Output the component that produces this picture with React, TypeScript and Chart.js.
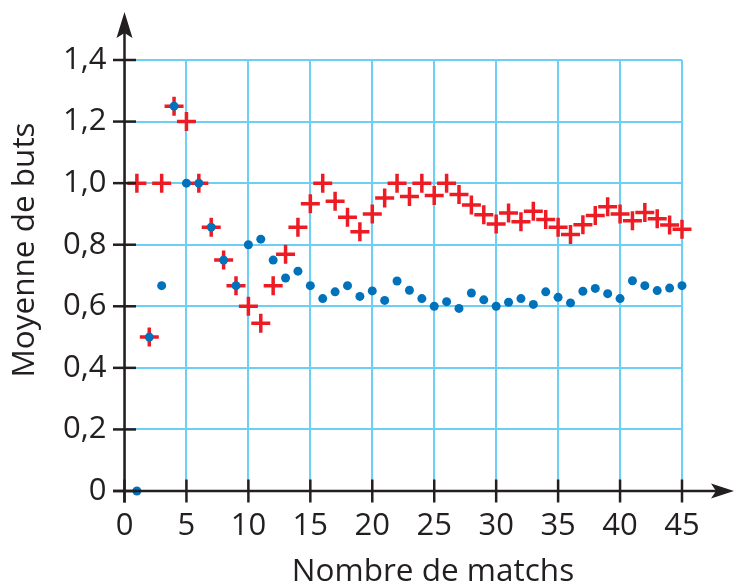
import { useEffect, useRef } from "react";
import { Chart, registerables } from "chart.js";

Chart.register(...registerables);

// ---- data ----
const matchNumbers = [
  1, 2, 3, 4, 5, 6, 7, 8, 9, 10, 11, 12, 13, 14, 15, 16, 17, 18, 19, 20, 21, 22, 23,
  24, 25, 26, 27, 28, 29, 30, 31, 32, 33, 34, 35, 36, 37, 38, 39, 40, 41, 42, 43, 44, 45,
];

const redAverages = [
  1.0, 0.5, 1.0, 1.25, 1.2, 1.0, 0.857, 0.75, 0.667, 0.6, 0.545, 0.667, 0.769, 0.857,
  0.933, 1.0, 0.941, 0.889, 0.842, 0.9, 0.952, 1.0, 0.957, 1.0, 0.96, 1.0, 0.963, 0.929,
  0.897, 0.867, 0.903, 0.875, 0.909, 0.882, 0.857, 0.833, 0.865, 0.895, 0.923, 0.9,
  0.878, 0.905, 0.884, 0.864, 0.85,
];

const blueAverages = [
  0, 0.5, 0.667, 1.25, 1.0, 1.0, 0.857, 0.75, 0.667, 0.8, 0.818, 0.75, 0.692, 0.714,
  0.667, 0.625, 0.647, 0.667, 0.632, 0.65, 0.619, 0.682, 0.652, 0.625, 0.6, 0.615, 0.593,
  0.643, 0.621, 0.6, 0.613, 0.625, 0.606, 0.647, 0.629, 0.611, 0.649, 0.658, 0.641,
  0.625, 0.683, 0.667, 0.651, 0.659, 0.667,
];

const xTickValues = [0, 5, 10, 15, 20, 25, 30, 35, 40, 45];
const xTickLabels = ["0", "5", "10", "15", "20", "25", "30", "35", "40", "45"];
const yTickValues = [0, 0.2, 0.4, 0.6, 0.8, 1.0, 1.2, 1.4];
const yTickLabels = ["0", "0,2", "0,4", "0,6", "0,8", "1,0", "1,2", "1,4"];

const xTitle = "Nombre de matchs";
const yTitle = "Moyenne de buts";

// ---- styles ----
const FONT = "'Open Sans', 'Noto Sans', sans-serif";
const TEXT = "#231f20";
const AXIS = "#231f20";
const GRID = "#6dcff6";
const RED = "#ed1c24";
const BLUE = "#0072bc";

export default function App() {
  const ref = useRef<HTMLCanvasElement>(null);

  useEffect(() => {
    const canvas = ref.current;
    if (!canvas) return;

    const axesPlugin = {
      id: "axesArrows",
      afterDraw(chart: any) {
        const ctx = chart.ctx as CanvasRenderingContext2D;
        const xs = chart.scales.x;
        const ys = chart.scales.y;
        const x0 = xs.getPixelForValue(0);
        const y0 = ys.getPixelForValue(0);
        const tick = 11.5;
        ctx.save();
        ctx.strokeStyle = AXIS;
        ctx.fillStyle = AXIS;
        ctx.lineWidth = 2.5;
        ctx.lineCap = "butt";
        const line = (a: number, b: number, c: number, d: number) => {
          ctx.beginPath();
          ctx.moveTo(a, b);
          ctx.lineTo(c, d);
          ctx.stroke();
        };
        xs.ticks.forEach((t: any) => {
          const px = xs.getPixelForValue(t.value);
          line(px, y0 - tick, px, y0 + tick);
        });
        ys.ticks.forEach((t: any) => {
          const py = ys.getPixelForValue(t.value);
          line(x0 - tick, py, x0 + tick, py);
        });
        // y axis
        const yTip = 12;
        line(x0, y0 + tick, x0, yTip + 20);
        ctx.beginPath();
        ctx.moveTo(x0, yTip);
        ctx.lineTo(x0 + 8, yTip + 26);
        ctx.lineTo(x0, yTip + 21);
        ctx.lineTo(x0 - 8, yTip + 26);
        ctx.closePath();
        ctx.fill();
        // x axis
        const xTip = chart.width;
        line(x0 - tick, y0, xTip - 18, y0);
        ctx.beginPath();
        ctx.moveTo(xTip, y0);
        ctx.lineTo(xTip - 23, y0 - 7.5);
        ctx.lineTo(xTip - 18, y0);
        ctx.lineTo(xTip - 23, y0 + 7.5);
        ctx.closePath();
        ctx.fill();
        // titles
        ctx.fillStyle = TEXT;
        ctx.font = `31.5px ${FONT}`;
        ctx.textAlign = "center";
        ctx.textBaseline = "alphabetic";
        ctx.fillText(xTitle, 433, 581);
        ctx.save();
        ctx.translate(34, 250);
        ctx.rotate(-Math.PI / 2);
        ctx.fillText(yTitle, 0, 0);
        ctx.restore();
        ctx.restore();
      },
    };

    const chart = new Chart(canvas, {
      type: "scatter",
      data: {
        datasets: [
          {
            label: "Bleu",
            data: matchNumbers.map((m, i) => ({ x: m, y: blueAverages[i] })),
            pointStyle: "circle",
            pointRadius: 4.5,
            pointBackgroundColor: BLUE,
            pointBorderWidth: 0,
            borderColor: BLUE,
            backgroundColor: BLUE,
            order: 0,
            clip: false,
          },
          {
            label: "Rouge",
            data: matchNumbers.map((m, i) => ({ x: m, y: redAverages[i] })),
            pointStyle: "cross",
            pointRadius: 9.5,
            pointBorderWidth: 3.5,
            pointBorderColor: RED,
            borderColor: RED,
            backgroundColor: RED,
            order: 1,
            clip: false,
          },
        ],
      },
      options: {
        animation: false,
        responsive: true,
        maintainAspectRatio: false,
        events: [],
        layout: { autoPadding: false, padding: { top: 60, right: 52, left: 0, bottom: 0 } },
        plugins: { legend: { display: false }, tooltip: { enabled: false } },
        scales: {
          x: {
            type: "linear",
            min: 0,
            max: 45,
            afterBuildTicks: (s: any) => {
              s.ticks = xTickValues.map((v) => ({ value: v }));
            },
            afterFit: (s: any) => {
              s.height = 92;
            },
            grid: { color: GRID, lineWidth: 2, drawTicks: false },
            border: { display: false },
            ticks: {
              padding: 17,
              color: TEXT,
              font: { family: FONT, size: 31 },
              maxRotation: 0,
              autoSkip: false,
              callback: (v: any) => xTickLabels[xTickValues.indexOf(Number(v))] ?? "",
            },
          },
          y: {
            type: "linear",
            min: 0,
            max: 1.4,
            afterBuildTicks: (s: any) => {
              s.ticks = yTickValues.map((v) => ({ value: v }));
            },
            afterFit: (s: any) => {
              s.width = 124.5;
            },
            grid: { color: GRID, lineWidth: 2, drawTicks: false },
            border: { display: false },
            ticks: {
              padding: 18,
              color: TEXT,
              font: { family: FONT, size: 31 },
              autoSkip: false,
              callback: (v: any) =>
                yTickLabels[yTickValues.findIndex((t) => Math.abs(t - Number(v)) < 1e-6)] ?? "",
            },
          },
        },
      },
      plugins: [axesPlugin],
    } as any);

    return () => chart.destroy();
  }, []);

  return (
    <div style={{ position: "absolute", left: 0, top: 0, width: 734, height: 583, background: "#fff" }}>
      <canvas ref={ref} />
    </div>
  );
}
